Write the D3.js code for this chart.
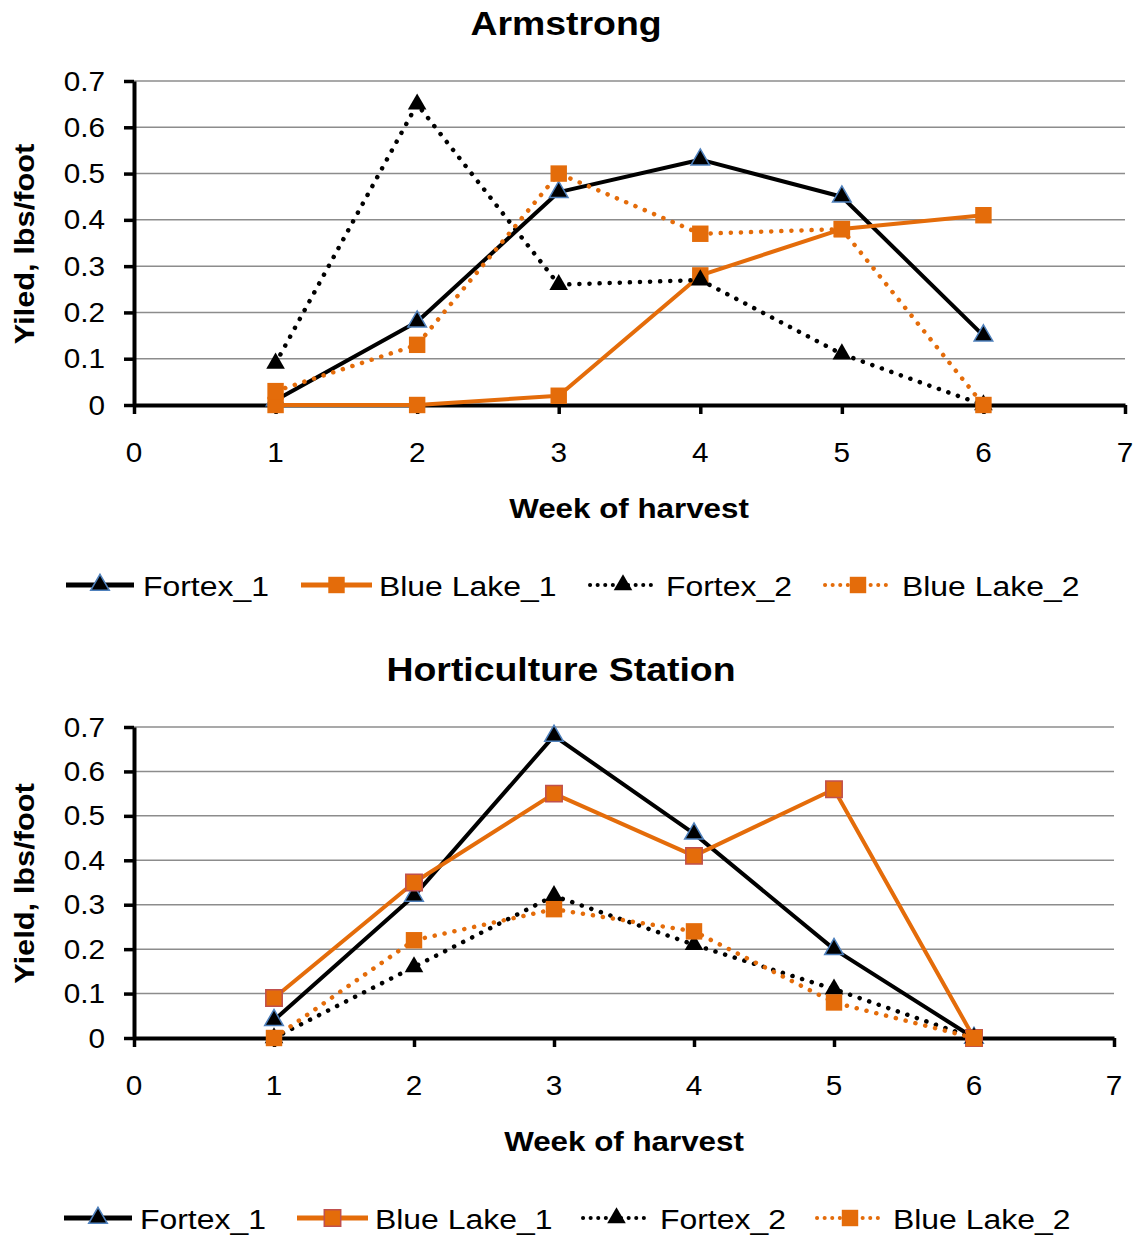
<!DOCTYPE html>
<html>
<head>
<meta charset="utf-8">
<script src="https://cdn.jsdelivr.net/npm/d3@7"></script>
<style>
  body { margin: 0; background: #fff; }
  svg text { font-family: "Liberation Sans", Arial, sans-serif; fill: #000; }
</style>
</head>
<body>
<svg id="chart" width="1139" height="1238"></svg>
<script>
// data
const weeks = [1, 2, 3, 4, 5, 6]
const seriesNames = ["Fortex_1", "Blue Lake_1", "Fortex_2", "Blue Lake_2"]
const yTicks = [0, 0.1, 0.2, 0.3, 0.4, 0.5, 0.6, 0.7]
const xTicks = [0, 1, 2, 3, 4, 5, 6, 7]

const armFortex1 = [0.01, 0.18, 0.46, 0.53, 0.45, 0.15]
const armBlueLake1 = [0, 0, 0.02, 0.28, 0.38, 0.41]
const armFortex2 = [0.09, 0.65, 0.26, 0.27, 0.11, 0]
const armBlueLake2 = [0.03, 0.13, 0.50, 0.37, 0.38, 0]

const hortFortex1 = [0.04, 0.32, 0.68, 0.46, 0.20, 0]
const hortBlueLake1 = [0.09, 0.35, 0.55, 0.41, 0.56, 0]
const hortFortex2 = [0, 0.16, 0.32, 0.21, 0.11, 0]
const hortBlueLake2 = [0, 0.22, 0.29, 0.24, 0.08, 0]

const ORANGE = "#e46c0a"
const SX = 1.1   // the source text is a bit wide

// styles per series, same order as seriesNames
const styles = [
	{color: "#000", dash: null, width: 4, sym: d3.symbolTriangle, size: 150, mstroke: "#4f81bd"},
	{color: ORANGE, dash: null, width: 4, sym: d3.symbolSquare, size: 270, mstroke: null},
	{color: "#000", dash: "0.1 10", width: 4.5, sym: d3.symbolTriangle, size: 150, mstroke: null},
	{color: ORANGE, dash: "0.1 10", width: 4.5, sym: d3.symbolSquare, size: 270, mstroke: null}
]

const svg = d3.select("#chart")

function txt(g, str, x, y, size, weight, anchor, rot, sx){
	return g.append("text")
		.attr("transform", "translate(" + x + "," + y + ")" + (rot ? " rotate(" + rot + ")" : "") + " scale(" + (sx || SX) + ",1)")
		.attr("dominant-baseline", "central")
		.attr("text-anchor", anchor || "middle")
		.style("font-size", size + "px")
		.style("font-weight", weight || "normal")
		.text(str)
}

function drawPanel(p){
	const g = svg.append("g")
	const x = d3.scaleLinear().domain([0, 7]).range([p.x0, p.x1])
	const y = d3.scaleLinear().domain([0, 0.7]).range([p.yBot, p.yTop])

	// gridlines
	g.append("g").selectAll("line")
		.data(yTicks.slice(1))
		.join("line")
		.attr("x1", p.x0).attr("x2", p.x1)
		.attr("y1", d => y(d)).attr("y2", d => y(d))
		.attr("stroke", "#8c8c8c")
		.attr("stroke-width", 1.5)

	// y axis
	const yAxisGroup = g.append("g")
		.attr("transform", "translate(" + p.x0 + ",0)")
		.call(d3.axisLeft(y).tickValues(yTicks).tickSize(10).tickSizeOuter(0).tickFormat(""))
	yAxisGroup.selectAll("line").attr("stroke", "#000").attr("stroke-width", 3.5)
	yAxisGroup.select("path").attr("stroke", "#000").attr("stroke-width", 4)
	yTicks.forEach(v => txt(g, v === 0 ? "0" : d3.format(".1f")(v), p.x0 - 29, y(v), 27, "normal", "end"))

	// x axis
	const xAxisGroup = g.append("g")
		.attr("transform", "translate(0," + p.yBot + ")")
		.call(d3.axisBottom(x).tickValues(xTicks).tickSize(9).tickSizeOuter(0).tickFormat(""))
	xAxisGroup.selectAll("line").attr("stroke", "#000").attr("stroke-width", 3.5)
	xAxisGroup.select("path").attr("stroke", "#000").attr("stroke-width", 4)
	xTicks.forEach(v => txt(g, String(v), x(v), p.yBot + 47, 27))

	// titles
	txt(g, p.title, p.titleX, p.titleY, 34, "bold")
	txt(g, "Week of harvest", p.xLabelX, p.yBot + 103, 28.5, "bold")
	txt(g, p.yLabel, 24, (p.yTop + p.yBot) / 2 + 1, 28, "bold", "middle", -90)

	// series
	const line = d3.line().x((d, i) => x(weeks[i])).y(d => y(d))
	p.series.forEach((vals, k) => {
		const s = styles[k]
		g.append("path")
			.datum(vals)
			.attr("d", line)
			.attr("fill", "none")
			.attr("stroke", s.color)
			.attr("stroke-width", s.width)
			.attr("stroke-linecap", s.dash ? "round" : "butt")
			.attr("stroke-linejoin", "round")
			.attr("stroke-dasharray", s.dash)
		g.append("g").selectAll("path")
			.data(vals)
			.join("path")
			.attr("transform", (d, i) => "translate(" + x(weeks[i]) + "," + y(d) + ")")
			.attr("d", d3.symbol().type(s.sym).size(s.size))
			.attr("fill", s.color)
			.attr("stroke", k === 1 ? p.sqStroke : s.mstroke)
			.attr("stroke-width", 1.5)
	})

	// legend
	const leg = g.append("g").attr("transform", "translate(0," + p.legY + ")")
	seriesNames.forEach((name, k) => {
		const s = styles[k]
		const [lx0, lx1, tx] = p.legend[k]
		leg.append("line")
			.attr("x1", lx0).attr("x2", lx1)
			.attr("stroke", s.color)
			.attr("stroke-width", s.dash ? 4 : 5)
			.attr("stroke-linecap", s.dash ? "round" : "butt")
			.attr("stroke-dasharray", s.dash ? "0.1 7.5" : null)
		leg.append("path")
			.attr("transform", "translate(" + (lx0 + lx1) / 2 + ",0)")
			.attr("d", d3.symbol().type(s.sym).size(s.size))
			.attr("fill", s.color)
			.attr("stroke", k === 1 ? p.sqStroke : s.mstroke)
			.attr("stroke-width", 1.5)
		txt(leg, name, tx, 1, 28, "normal", "start", 0, 1.14)
	})
}

drawPanel({
	title: "Armstrong", titleX: 566, titleY: 24,
	yLabel: "Yiled, lbs/foot", xLabelX: 629,
	x0: 134, x1: 1125, yTop: 81, yBot: 405,
	series: [armFortex1, armBlueLake1, armFortex2, armBlueLake2],
	sqStroke: null,
	legY: 585,
	legend: [[66, 134, 143], [301, 372, 379], [590, 656, 666], [825, 891, 902]]
})

drawPanel({
	title: "Horticulture Station", titleX: 561, titleY: 670,
	yLabel: "Yield, lbs/foot", xLabelX: 624,
	x0: 134, x1: 1114, yTop: 727, yBot: 1038,
	series: [hortFortex1, hortBlueLake1, hortFortex2, hortBlueLake2],
	sqStroke: "#c0504d",
	legY: 1218,
	legend: [[64, 132, 140], [297, 368, 375], [583, 650, 660], [817, 883, 893]]
})
</script>
</body>
</html>
